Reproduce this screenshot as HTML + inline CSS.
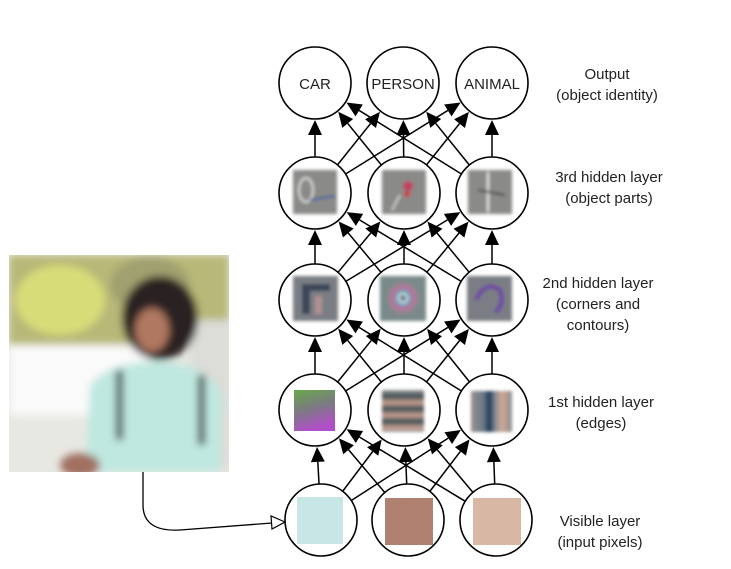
<!DOCTYPE html>
<html><head><meta charset="utf-8"><style>
html,body{margin:0;padding:0;background:#fff;width:731px;height:569px;overflow:hidden}
svg{display:block}
text{font-family:"Liberation Sans",Arial,sans-serif;fill:#222}
</style></head><body>
<svg id="s" width="731" height="569" viewBox="0 0 731 569" xmlns="http://www.w3.org/2000/svg">
<defs>
<filter id="bl" x="-10%" y="-10%" width="120%" height="120%"><feGaussianBlur stdDeviation="4"/></filter>
<filter id="bl2"><feGaussianBlur stdDeviation="1.5"/></filter>
<clipPath id="pc"><rect x="9" y="255" width="220" height="217"/></clipPath>
<linearGradient id="g1" x1="0" y1="0" x2="0.3" y2="1"><stop offset="0" stop-color="#6aa84a"/><stop offset="0.5" stop-color="#7a7c80"/><stop offset="1" stop-color="#b050c8"/></linearGradient>
<linearGradient id="g2" x1="0" y1="0" x2="0" y2="1">
<stop offset="0" stop-color="#9a9a9a"/><stop offset="0.15" stop-color="#3f4f55"/><stop offset="0.3" stop-color="#c8a090"/><stop offset="0.45" stop-color="#3f4f55"/><stop offset="0.6" stop-color="#c8a090"/><stop offset="0.75" stop-color="#3f4f55"/><stop offset="0.9" stop-color="#c8a090"/><stop offset="1" stop-color="#9a9a9a"/></linearGradient>
<linearGradient id="g3" x1="0" y1="0" x2="1" y2="0">
<stop offset="0" stop-color="#9a9090"/><stop offset="0.3" stop-color="#6a7a86"/><stop offset="0.45" stop-color="#1c3a58"/><stop offset="0.6" stop-color="#8a8e96"/><stop offset="0.75" stop-color="#d0a890"/><stop offset="1" stop-color="#8a8e96"/></linearGradient>
<radialGradient id="g4"><stop offset="0" stop-color="#1d3040"/><stop offset="0.25" stop-color="#d0d8e0"/><stop offset="0.45" stop-color="#5aa0b0"/><stop offset="0.6" stop-color="#c070a0"/><stop offset="1" stop-color="#8a8a8a"/></radialGradient>
</defs>
<g clip-path="url(#pc)">
<rect x="9" y="255" width="220" height="217" fill="#e8e8e2"/>
<g filter="url(#bl)">
<rect x="9" y="255" width="220" height="90" fill="#b8b878"/>
<ellipse cx="60" cy="300" rx="45" ry="35" fill="#d8dc78"/>
<ellipse cx="150" cy="285" rx="40" ry="28" fill="#a0a070"/>
<rect x="9" y="345" width="140" height="70" fill="#fafafa"/>
<rect x="190" y="320" width="40" height="150" fill="#dcdcd8"/>
<ellipse cx="160" cy="318" rx="38" ry="42" fill="#2a2420"/>
<ellipse cx="152" cy="330" rx="17" ry="22" fill="#b07860"/>
<path d="M85 472 L90 385 Q110 360 160 362 Q210 365 222 395 L220 472 Z" fill="#bfe8e0"/>
<rect x="116" y="370" width="7" height="70" fill="#303030"/>
<rect x="198" y="375" width="7" height="70" fill="#303030"/>
<ellipse cx="80" cy="465" rx="20" ry="12" fill="#a07060"/>
</g>
</g>
<path d="M143 472 L143 505 Q143 532 180 530 L272 523" fill="none" stroke="#000" stroke-width="1.3"/>
<polygon points="285,522 271,516 272,529" fill="#fff" stroke="#000" stroke-width="1.2"/>
<g id="edges" stroke="#000" stroke-width="1.5"></g>
<g id="heads" fill="#000"></g>
<g id="nodes" fill="#fff" stroke="#000" stroke-width="1.6"></g>
<g filter="url(#bl2)">
<rect x="293" y="170" width="44" height="44" fill="#8a8a88"/>
<ellipse cx="306" cy="190" rx="7" ry="12" fill="none" stroke="#ddd" stroke-width="2"/>
<line x1="310" y1="200" x2="335" y2="196" stroke="#4060a0" stroke-width="2"/>
<rect x="382" y="170" width="44" height="44" fill="#8a8a88"/>
<circle cx="408" cy="186" r="5" fill="#c04060"/><circle cx="407" cy="194" r="3" fill="#d03040"/>
<line x1="400" y1="195" x2="392" y2="210" stroke="#e0e0e0" stroke-width="1.5"/>
<rect x="468" y="170" width="44" height="44" fill="#8a8a88"/>
<line x1="488" y1="172" x2="488" y2="212" stroke="#eee" stroke-width="2"/>
<line x1="478" y1="190" x2="505" y2="195" stroke="#444" stroke-width="2"/>
<rect x="293" y="276" width="45" height="45" fill="#7a7e84"/>
<rect x="302" y="284" width="8" height="30" fill="#3a4658"/><rect x="302" y="284" width="28" height="7" fill="#3a4658"/><rect x="315" y="296" width="7" height="18" fill="#b09090"/>
<rect x="380" y="276" width="46" height="45" fill="#7a8a8a"/>
<circle cx="403" cy="298" r="16" fill="url(#g4)"/>
<rect x="467" y="276" width="45" height="45" fill="#7a7e84"/>
<path d="M476 300 Q485 280 500 290 Q505 305 495 312" fill="none" stroke="#7050a0" stroke-width="5"/>
</g>
<rect x="294" y="390" width="41" height="41" fill="url(#g1)"/>
<rect x="382" y="390" width="42" height="42" fill="url(#g2)" filter="url(#bl2)"/>
<rect x="471" y="391" width="41" height="41" fill="url(#g3)" filter="url(#bl2)"/>
<rect x="297" y="497" width="46" height="47" fill="#c9e6e6"/>
<rect x="385" y="498" width="48" height="47" fill="#b08070"/>
<rect x="473" y="498" width="48" height="47" fill="#d8b8a4"/>
<text x="315" y="89" font-size="15" text-anchor="middle">CAR</text>
<text x="403" y="89" font-size="15" text-anchor="middle">PERSON</text>
<text x="492" y="89" font-size="15" text-anchor="middle">ANIMAL</text>
<g font-size="15" text-anchor="middle">
<text x="607" y="79">Output</text><text x="607" y="100">(object identity)</text>
<text x="609" y="182">3rd hidden layer</text><text x="609" y="192" dy="11">(object parts)</text>
<text x="598" y="288">2nd hidden layer</text><text x="598" y="309">(corners and</text><text x="598" y="330">contours)</text>
<text x="601" y="407">1st hidden layer</text><text x="601" y="428">(edges)</text>
<text x="600" y="526">Visible layer</text><text x="600" y="547">(input pixels)</text>
</g>
</svg>
<script>
var L=[[[315,83],[403,83],[492,83]],[[315,193],[404,193],[492,193]],[[315,300],[404,300],[492,300]],[[315,410],[404,410],[492,410]],[[321,520],[408,520],[496,520]]];
var R=36,NS="http://www.w3.org/2000/svg";
var E=document.getElementById('edges'),H=document.getElementById('heads'),N=document.getElementById('nodes');
function mk(t,a,p){var e=document.createElementNS(NS,t);for(var k in a)e.setAttribute(k,a[k]);p.appendChild(e);}
for(var l=0;l<4;l++){for(var i=0;i<3;i++)for(var j=0;j<3;j++){
var a=L[l+1][i],b=L[l][j];var dx=b[0]-a[0],dy=b[1]-a[1],d=Math.hypot(dx,dy),ux=dx/d,uy=dy/d;
var x1=a[0]+ux*R,y1=a[1]+uy*R,x2=b[0]-ux*(R+1),y2=b[1]-uy*(R+1);
var hl=15,hw=7;var bx=x2-ux*hl,by=y2-uy*hl;
mk('line',{x1:x1,y1:y1,x2:bx,y2:by},E);
mk('polygon',{points:x2+','+y2+' '+(bx-uy*hw)+','+(by+ux*hw)+' '+(bx+uy*hw)+','+(by-ux*hw)},H);}}
for(var l=0;l<5;l++)for(var i=0;i<3;i++)mk('circle',{cx:L[l][i][0],cy:L[l][i][1],r:R},N);
</script>
</body></html>
